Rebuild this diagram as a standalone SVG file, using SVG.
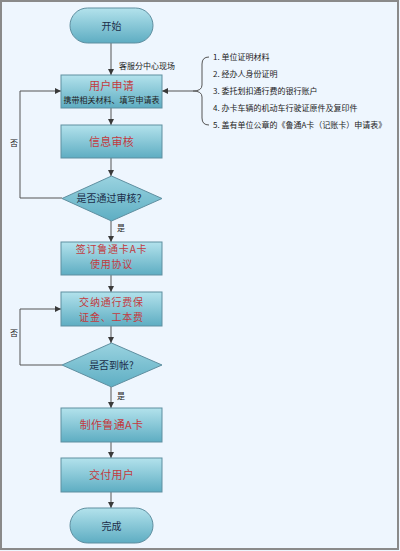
<svg xmlns="http://www.w3.org/2000/svg" width="400" height="551" viewBox="0 0 400 551">
<defs>
<linearGradient id="g" x1="0" y1="0" x2="0" y2="1">
<stop offset="0" stop-color="#b3e2ec"/>
<stop offset="1" stop-color="#5eadc2"/>
</linearGradient>
<linearGradient id="gd" x1="0" y1="0" x2="0" y2="1">
<stop offset="0" stop-color="#9ad3e0"/>
<stop offset="1" stop-color="#5eaec3"/>
</linearGradient>
<marker id="a" viewBox="0 0 8 8" refX="8" refY="4" markerWidth="6" markerHeight="6" orient="auto" markerUnits="userSpaceOnUse">
<path d="M0,0 L8,4 L0,8 z" fill="#3a3a3a"/>
</marker>
<style>
.box{fill:url(#g);stroke:#5f8fa0;stroke-width:1}
.dia{fill:url(#gd);stroke:#5f8fa0;stroke-width:1}
.t{font-family:"Noto Sans CJK SC",sans-serif;font-size:11px;fill:#c23a3e;text-anchor:middle;letter-spacing:0.3px}
.t2{font-family:"Noto Sans CJK SC",sans-serif;font-size:10px;fill:#c23a3e;text-anchor:middle;letter-spacing:0.8px}
.d{font-family:"Noto Sans CJK SC",sans-serif;font-size:10px;fill:#1c2f4a;text-anchor:middle}
.s{font-family:"Noto Sans CJK SC",sans-serif;font-size:8px;fill:#222;}
.c{fill:none;stroke:#555;stroke-width:1}
</style>
</defs>
<rect x="0" y="0" width="400" height="551" fill="#eef6fe"/>
<rect x="1" y="1" width="397" height="548" fill="none" stroke="#8a8a8a" stroke-width="2"/>

<g id="connectors">
<line class="c" x1="111" y1="43" x2="111" y2="75" marker-end="url(#a)"/>
<line class="c" x1="111" y1="108" x2="111" y2="125" marker-end="url(#a)"/>
<line class="c" x1="111" y1="158" x2="111" y2="176" marker-end="url(#a)"/>
<line class="c" x1="111" y1="221" x2="111" y2="242" marker-end="url(#a)"/>
<line class="c" x1="111" y1="275" x2="111" y2="292" marker-end="url(#a)"/>
<line class="c" x1="111" y1="326" x2="111" y2="343" marker-end="url(#a)"/>
<line class="c" x1="111" y1="387" x2="111" y2="408" marker-end="url(#a)"/>
<line class="c" x1="111" y1="442" x2="111" y2="458" marker-end="url(#a)"/>
<line class="c" x1="111" y1="492" x2="111" y2="508" marker-end="url(#a)"/>
<polyline class="c" points="62,198 20,198 20,91 61,91" marker-end="url(#a)"/>
<polyline class="c" points="62,365 20,365 20,309 61,309" marker-end="url(#a)"/>
<line class="c" x1="193" y1="91" x2="162" y2="91" marker-end="url(#a)"/>
<path class="c" d="M209,57 Q202,57 202,64 L202,85 Q202,91 193,91 Q202,91 202,97 L202,118 Q202,125 209,125"/>
<text class="s" x="119" y="69">客服分中心现场</text>
<text class="s" x="10" y="146" font-size="7px">否</text>
<text class="s" x="10" y="336" font-size="7px">否</text>
<text class="s" x="117" y="231" font-size="7px">是</text>
<text class="s" x="117" y="399" font-size="7px">是</text>
</g>

<g id="list">
<text class="s" x="213" y="60">1. 单位证明材料</text>
<text class="s" x="213" y="77">2. 经办人身份证明</text>
<text class="s" x="213" y="94">3. 委托划扣通行费的银行账户</text>
<text class="s" x="213" y="111">4. 办卡车辆的机动车行驶证原件及复印件</text>
<text class="s" x="213" y="128">5. 盖有单位公章的《鲁通A卡（记账卡）申请表》</text>
</g>

<g id="start">
<rect x="70" y="8" width="83" height="35" rx="17.5" class="box"/>
<text class="d" x="111.5" y="29.5" font-size="11px">开始</text>
</g>
<g id="apply">
<rect x="61" y="75" width="101" height="33" class="box"/>
<text class="t" x="111.5" y="90">用户申请</text>
<text class="s" x="111.5" y="103" font-size="7px" text-anchor="middle" fill="#1c2f4a">携带相关材料、填写申请表</text>
</g>
<g id="review">
<rect x="61" y="125" width="101" height="33" class="box"/>
<text class="t" x="111.5" y="145.5">信息审核</text>
</g>
<g id="pass">
<polygon points="111.5,176 162,198.5 111.5,221 62,198.5" class="dia"/>
<text class="d" x="111.5" y="202">是否通过审核？</text>
</g>
<g id="sign">
<rect x="61" y="242" width="101" height="33" class="box"/>
<text class="t2" x="111.5" y="253">签订鲁通卡A卡</text>
<text class="t2" x="111.5" y="268">使用协议</text>
</g>
<g id="pay">
<rect x="61" y="292" width="101" height="34" class="box"/>
<text class="t2" x="111.5" y="306">交纳通行费保</text>
<text class="t2" x="111.5" y="321">证金、工本费</text>
</g>
<g id="arrived">
<polygon points="111.5,343 162,365 111.5,387 62,365" class="dia"/>
<text class="d" x="111.5" y="369" font-size="10.5px">是否到帐?</text>
</g>
<g id="make">
<rect x="61" y="408" width="101" height="34" class="box"/>
<text class="t" x="111.5" y="429">制作鲁通A卡</text>
</g>
<g id="deliver">
<rect x="61" y="458" width="101" height="34" class="box"/>
<text class="t" x="111.5" y="479">交付用户</text>
</g>
<g id="end">
<rect x="70" y="508" width="83" height="35" rx="17.5" class="box"/>
<text class="d" x="111.5" y="529.5" font-size="11px">完成</text>
</g>
</svg>
